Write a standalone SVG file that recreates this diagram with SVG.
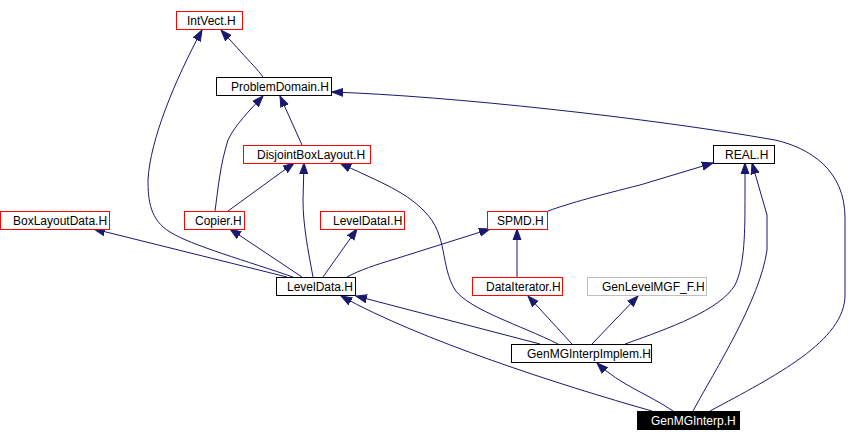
<svg xmlns="http://www.w3.org/2000/svg" width="861" height="442" viewBox="0 0 861 442">
<defs>
<marker id="ah" markerUnits="userSpaceOnUse" markerWidth="12" markerHeight="10" refX="11" refY="5" orient="auto">
<path d="M0,1 L11,5 L0,9 Z" fill="#191970" stroke="#191970" stroke-width="1"/>
</marker>
<style>
.e{fill:none;stroke:#191970;stroke-width:1;marker-end:url(#ah)}
.n rect{fill:#ffffff;stroke-width:1}
.r rect{stroke:#ff0000}
.b rect{stroke:#000000}
.g rect{stroke:#bfbfbf}
.n text{font-family:"Liberation Sans",Arial,sans-serif;font-size:12px;fill:#000000}
#GenMGInterp rect{fill:#000000;stroke:#000000}
#GenMGInterp text{fill:#ffffff}
</style>
</defs>
<rect width="861" height="442" fill="#ffffff"/>
<g id="edges">
<path class="e" d="M263,77 C258,70 250,62 241,52 L221,30"/>
<path class="e" d="M293,277 C250,262 190,245 170,232 C150,220 148,200 148,180 C150,140 175,80 202,30"/>
<path class="e" d="M215,211 C218,190 220,165 228,140 C235,125 250,110 263,96"/>
<path class="e" d="M302,145 L280,96"/>
<path class="e" d="M228,211 L294,163"/>
<path class="e" d="M313,277 C308,250 303,225 303,200 L304,163"/>
<path class="e" d="M558,344 C520,325 470,310 455,290 C440,265 448,235 425,212 C405,190 370,178 340,163"/>
<path class="e" d="M287,277 L94,229"/>
<path class="e" d="M302,277 L230,229"/>
<path class="e" d="M323,277 L357,229"/>
<path class="e" d="M347,277 C360,270 375,265 395,259 L490,229"/>
<path class="e" d="M548,211 C570,203 600,195 640,185 L713,163"/>
<path class="e" d="M517,277 L517,229"/>
<path class="e" d="M540,344 L356,296"/>
<path class="e" d="M572,344 L528,296"/>
<path class="e" d="M592,344 L638,296"/>
<path class="e" d="M625,344 C670,328 720,310 735,285 C745,265 745,230 745,195 L745,163"/>
<path class="e" d="M652,411 C560,385 420,340 341,296"/>
<path class="e" d="M673,411 C650,395 620,385 597,363"/>
<path class="e" d="M693,411 C715,370 760,300 767,250 L767,215 L752,163"/>
<path class="e" d="M710,411 C775,376 845,341 845,295 L845,218 C845,170 810,148 775,140 C650,118 450,96 332,92"/>
</g>
<g id="IntVect" class="n r"><rect x="176.5" y="11.5" width="66" height="18"/><text x="187" y="25">IntVect.H</text></g>
<g id="ProblemDomain" class="n b"><rect x="216.5" y="77.5" width="115" height="18"/><text x="231" y="91">ProblemDomain.H</text></g>
<g id="DisjointBoxLayout" class="n r"><rect x="243.5" y="145.5" width="127" height="18"/><text x="257" y="159">DisjointBoxLayout.H</text></g>
<g id="BoxLayoutData" class="n r"><rect x="0.5" y="211.5" width="109" height="18"/><text x="13" y="225">BoxLayoutData.H</text></g>
<g id="Copier" class="n r"><rect x="184.5" y="211.5" width="60" height="18"/><text x="195" y="225">Copier.H</text></g>
<g id="LevelDataI" class="n r"><rect x="320.5" y="211.5" width="84" height="18"/><text x="333" y="225">LevelDataI.H</text></g>
<g id="REAL" class="n b"><rect x="713.5" y="145.5" width="61" height="18"/><text x="725" y="159">REAL.H</text></g>
<g id="SPMD" class="n r"><rect x="487.5" y="211.5" width="60" height="18"/><text x="497" y="225">SPMD.H</text></g>
<g id="LevelData" class="n b"><rect x="276.5" y="277.5" width="79" height="18"/><text x="287" y="291">LevelData.H</text></g>
<g id="DataIterator" class="n r"><rect x="472.5" y="277.5" width="90" height="18"/><text x="486" y="291">DataIterator.H</text></g>
<g id="GenLevelMGF_F" class="n g"><rect x="587.5" y="277.5" width="119" height="18"/><text x="602" y="291">GenLevelMGF_F.H</text></g>
<g id="GenMGInterpImplem" class="n b"><rect x="511.5" y="344.5" width="140" height="18"/><text x="527" y="358">GenMGInterpImplem.H</text></g>
<g id="GenMGInterp" class="n"><rect x="637.5" y="411.5" width="102" height="18"/><text x="651" y="425">GenMGInterp.H</text></g>
</svg>
